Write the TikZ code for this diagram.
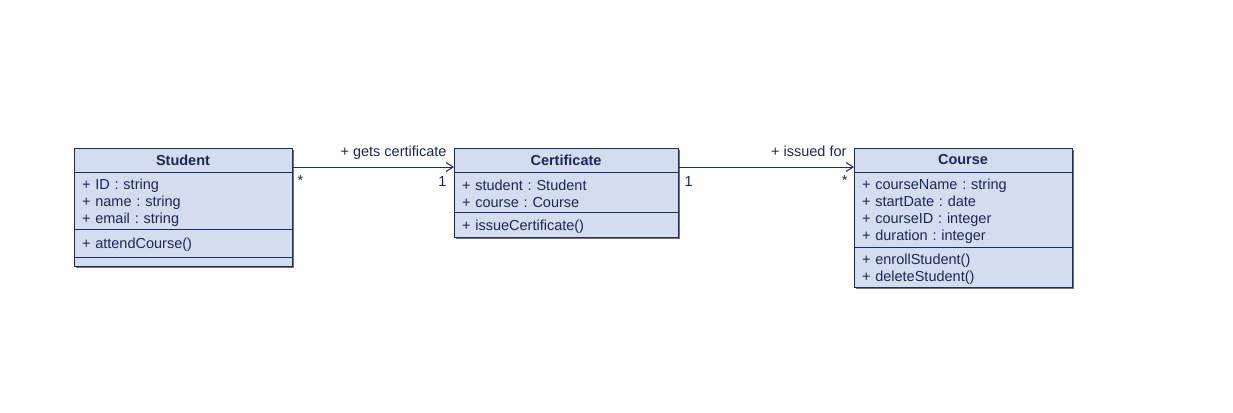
\documentclass[tikz,border=0pt]{standalone}
\usepackage{fontspec}
\setmainfont{Liberation Sans}
\usetikzlibrary{arrows.meta,positioning,shadows}
\definecolor{umlfill}{RGB}{212,221,240}
\definecolor{umlline}{RGB}{28,44,92}
\definecolor{umltext}{RGB}{26,40,84}
\newcommand{\umlfont}{\fontsize{14.5}{17}\selectfont\frenchspacing}
\tikzset{
  classbox/.style={draw=umlline,fill=umlfill,line width=1pt,inner sep=0pt,outer sep=0pt,
    minimum width=218pt,text=umltext,font=\umlfont,
    drop shadow={shadow xshift=1.5pt,shadow yshift=-1.5pt,fill=black!55,opacity=1}},
  classhead/.style={classbox,minimum height=24pt,font=\umlfont\bfseries},
  classpart/.style={classbox,align=left,text width=#1,inner xsep=8pt,inner ysep=0pt,
    execute at begin node={\rule{0pt}{14.5pt}}},
  classpart/.default=202pt,
  assoc/.style={draw=umlline,line width=1pt,-{Straight Barb[length=7pt,width=9pt]}},
  mult/.style={text=umltext,inner sep=0pt}
}
\begin{document}
\begin{tikzpicture}[x=1pt,y=-1pt,font=\umlfont]
\useasboundingbox[fill=white] (0,0) rectangle (1233,412);
\node[classhead,anchor=north west] (stu) at (74,148) {Student};
\node[classpart,minimum height=57pt,below=0pt of stu] (stuattr) {+ ID : string\\+ name : string\\+ email : string};
\node[classpart,minimum height=28pt,below=0pt of stuattr] (stumeth) {+ attendCourse()};
\node[classbox,minimum height=9pt,below=0pt of stumeth] (stuend) {};
\node[classhead,anchor=north west,minimum width=224pt] (cert) at (454,148) {Certificate};
\node[classpart=208pt,minimum height=40pt,below=0pt of cert] (certattr) {+ student : Student\\+ course : Course};
\node[classpart=208pt,minimum height=25pt,below=0pt of certattr] (certmeth) {+ issueCertificate()};
\node[classhead,anchor=north west] (crs) at (854,148) {Course};
\node[classpart,minimum height=75pt,below=0pt of crs] (crsattr) {+ courseName : string\\+ startDate : date\\+ courseID : integer\\+ duration : integer};
\node[classpart,minimum height=40pt,below=0pt of crsattr] (crsmeth) {+ enrollStudent()\\+ deleteStudent()};
\draw[assoc] ([yshift=-7pt]stu.east) -- node[mult,at end,anchor=base east,xshift=-7pt,yshift=11pt]{+ gets certificate}
  node[mult,at start,anchor=base west,xshift=5pt,yshift=-18pt]{*}
  node[mult,at end,anchor=base east,xshift=-7pt,yshift=-19pt]{1} ([yshift=-7pt]cert.west);
\draw[assoc] ([yshift=-7pt]cert.east) -- node[mult,at end,anchor=base east,xshift=-7pt,yshift=11pt]{+ issued for}
  node[mult,at start,anchor=base west,xshift=6pt,yshift=-19pt]{1}
  node[mult,at end,anchor=base east,xshift=-6pt,yshift=-18pt]{*} ([yshift=-7pt]crs.west);
\end{tikzpicture}
\end{document}
